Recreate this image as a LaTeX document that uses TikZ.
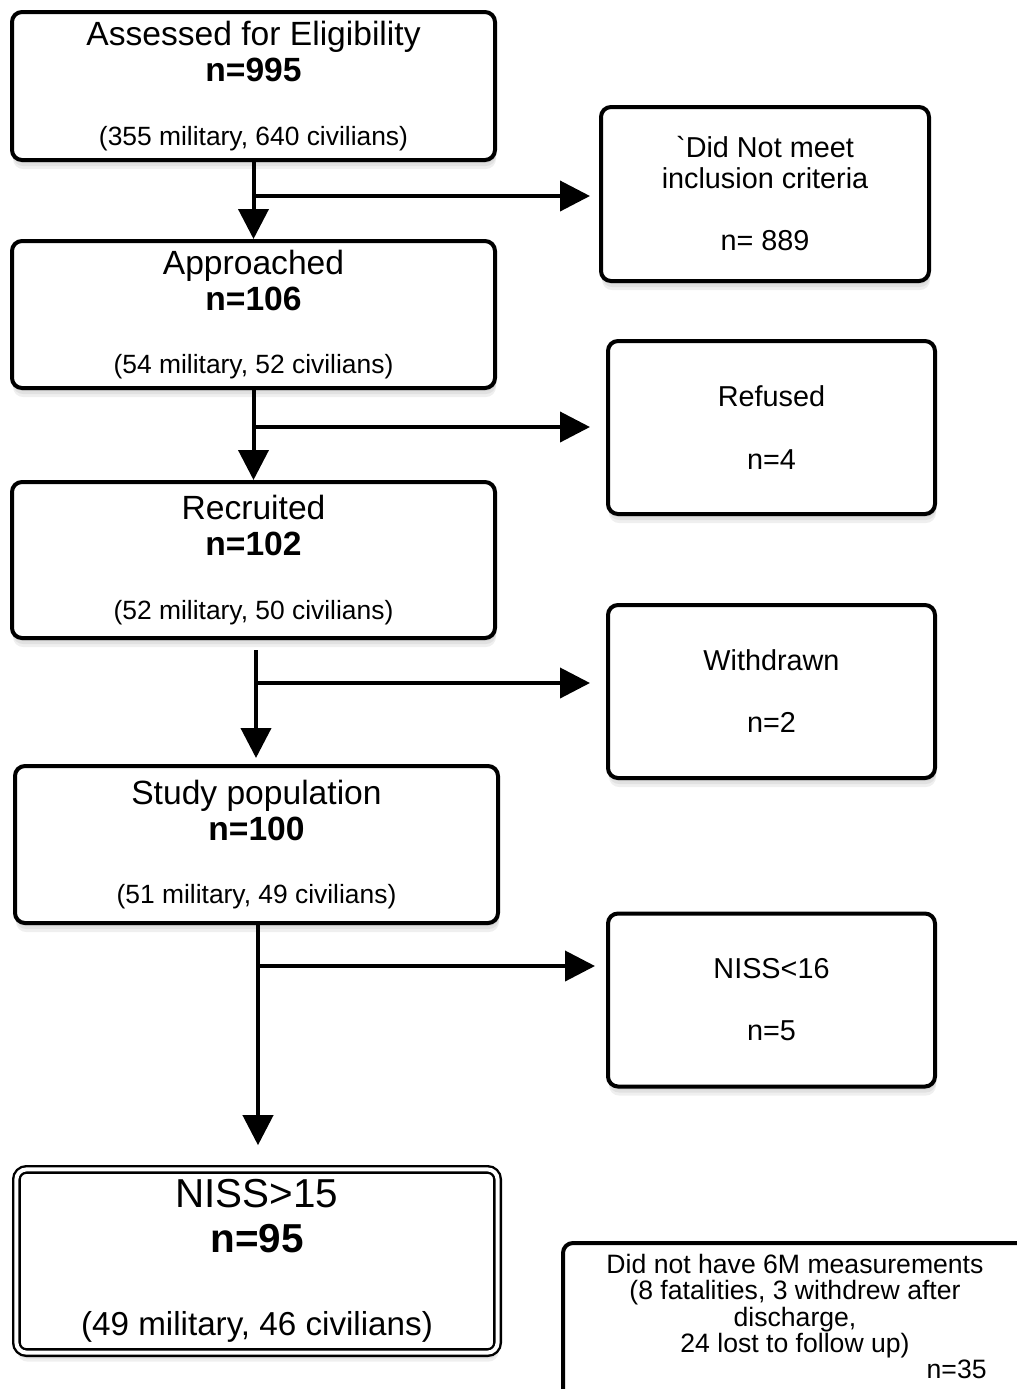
\documentclass[tikz,border=0pt]{standalone}
\usepackage{fontspec}
\setmainfont{Liberation Sans}
\usetikzlibrary{arrows.meta,shadows}
\begin{document}
\begin{tikzpicture}[x=0.5pt, y=-0.5pt, soft_shadow/.style={drop shadow={opacity=0.12,shadow xshift=0.5pt,shadow yshift=-1.5pt},drop shadow={opacity=0.12,shadow xshift=0.5pt,shadow yshift=-3pt},drop shadow={opacity=0.12,shadow xshift=0.5pt,shadow yshift=-4.5pt}},box_style/.style={draw=black,line width=2pt,rounded corners=5pt,fill=white,align=center,minimum width=241.5pt,soft_shadow,font=\fontsize{16.8}{18}\selectfont},side_style/.style={box_style,minimum width=163.5pt,minimum height=86.5pt,font=\fontsize{14.4}{15.5}\selectfont},final_style/.style={box_style,line width=1.2pt,double,double distance=2pt,minimum width=240.6pt,minimum height=91.6pt,font=\fontsize{20.2}{22.5}\selectfont},sub_text/.style={font=\fontsize{13.3}{13.15}\selectfont,align=center},edge_style/.style={draw=black,line width=2pt,-{Triangle[length=15pt,width=15pt]}}]
      \useasboundingbox[fill=white] (0,0) rectangle (1017,1389);
      \draw
        (253.5, 86.0) node[box_style,minimum height=74pt] (assessed){Assessed for Eligibility\\\textbf{n=995}\\[13.75pt]\fontsize{13.2}{15}\selectfont(355 military, 640 civilians)}
        (253.5, 314.5) node[box_style,minimum height=73.5pt] (approached){Approached\\\textbf{n=106}\\[13.75pt]\fontsize{13.2}{15}\selectfont(54 military, 52 civilians)}
        (253.5, 560.0) node[box_style,minimum height=78pt] (recruited){Recruited\\\textbf{n=102}\\[13.75pt]\fontsize{13.2}{15}\selectfont(52 military, 50 civilians)}
        (256.5, 844.5) node[box_style,minimum height=78.5pt] (study){Study population\\\textbf{n=100}\\[13.75pt]\fontsize{13.2}{15}\selectfont(51 military, 49 civilians)}
        (257.0, 1261.0) node[final_style] (niss_high){NISS>15\\\textbf{n=95}\\[18.75pt]\fontsize{16.6}{18}\selectfont(49 military, 46 civilians)}
        (765.0, 194.0) node[side_style,minimum width=164pt,minimum height=87pt] (excluded){\textasciigrave Did Not meet\\inclusion criteria\\[15.5pt]n= 889}
        (771.5, 427.5) node[side_style] (refused){Refused\\[16pt]n=4}
        (771.5, 691.5) node[side_style] (withdrawn){Withdrawn\\[15.5pt]n=2}
        (771.5, 1000.0) node[side_style] (niss_low){NISS<16\\[15.5pt]n=5};
      % box cut by the page edge
      \draw[line width=2pt,rounded corners=5pt,fill=white,soft_shadow] (563,1243) rectangle (1090,1450);
      \draw
        (795.0, 1306.0) node[sub_text] (missing){Did not have 6M measurements\\(8 fatalities, 3 withdrew after\\discharge,\\24 lost to follow up)}
        (987.0, 1378.0) node[sub_text,anchor=base east,inner sep=0pt] (missing_n){n=35};
      \coordinate (b1) at (253.5,196);
      \coordinate (b2) at (253.5,427);
      \coordinate (b3) at (256,683);
      \coordinate (b4) at (258,966);
      \coordinate (c3) at (256,650);
      \begin{scope}
        \draw[edge_style] (assessed.south) to (approached.north);
        \draw[edge_style,shorten >=4.5pt] (b1) to (b1 -| excluded.west);
        \draw[edge_style] (approached.south) to (recruited.north);
        \draw[edge_style,shorten >=8pt] (b2) to (b2 -| refused.west);
        \draw[edge_style,shorten >=3pt] (c3) to (c3 |- study.north);
        \draw[edge_style,shorten >=8pt] (b3) to (b3 -| withdrawn.west);
        \draw[edge_style,shorten >=11.5pt] (b4 |- study.south) to (b4 |- niss_high.north);
        \draw[edge_style,shorten >=5.5pt] (b4) to (b4 -| niss_low.west);
      \end{scope}
    \end{tikzpicture}
\end{document}
